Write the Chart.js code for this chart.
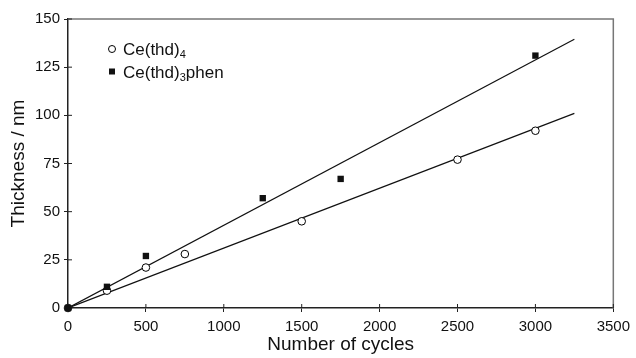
<!DOCTYPE html>
<html>
<head>
<meta charset="utf-8">
<script src="https://cdn.jsdelivr.net/npm/chart.js@4.4.1/dist/chart.umd.min.js"></script>
<style>
    html, body { margin: 0; padding: 0; background: #fff; }
    #wrap { width: 636px; height: 358px; }
</style>
</head>
<body>
<div id="wrap"><canvas id="thicknessChart" width="636" height="358"></canvas></div>
<script>
// measured points
const cyclesThd4 = [0, 250, 500, 750, 1500, 2500, 3000];
const thicknessThd4 = [0, 9, 21, 28, 45, 77, 92];
const cyclesPhen = [0, 250, 500, 1250, 1750, 3000];
const thicknessPhen = [0, 11, 27, 57, 67, 131];

// linear fits
const fitCycles = [0, 3250];
const fitThd4 = [0, 101];
const fitPhen = [0, 139.5];

const xTicks = [0, 500, 1000, 1500, 2000, 2500, 3000, 3500];
const yTicks = [0, 25, 50, 75, 100, 125, 150];

const FONT = "'Liberation Sans', Arial, sans-serif";

function toPoints(xs, ys) {
    return xs.map((x, i) => ({ x: x, y: ys[i] }));
}

// inside half of the crossing tick marks + grey frame on top/right
const framePlugin = {
    id: 'frame',
    beforeDatasetsDraw(chart) {
        const { ctx, chartArea: a, scales } = chart;
        ctx.save();
        ctx.strokeStyle = '#777';
        ctx.lineWidth = 1.5;
        ctx.beginPath();
        ctx.moveTo(a.left, a.top);
        ctx.lineTo(a.right, a.top);
        ctx.lineTo(a.right, a.bottom);
        ctx.stroke();

        ctx.strokeStyle = '#222';
        ctx.lineWidth = 1;
        ctx.beginPath();
        xTicks.forEach(v => {
            const px = scales.x.getPixelForValue(v);
            ctx.moveTo(px, a.bottom);
            ctx.lineTo(px, a.bottom - 4);
        });
        yTicks.forEach(v => {
            const py = scales.y.getPixelForValue(v);
            ctx.moveTo(a.left, py);
            ctx.lineTo(a.left + 4, py);
        });
        ctx.stroke();
        ctx.restore();
    }
};

// legend with subscripts
const legendPlugin = {
    id: 'subLegend',
    afterDraw(chart) {
        const { ctx } = chart;
        const items = [
            { style: 'circle', parts: [['Ce(thd)', false], ['4', true]] },
            { style: 'rect', parts: [['Ce(thd)', false], ['3', true], ['phen', false]] }
        ];
        const x0 = 112, y0 = 49, gap = 22.5;
        ctx.save();
        items.forEach((it, i) => {
            const y = y0 + i * gap;
            ctx.strokeStyle = '#000';
            ctx.lineWidth = 1;
            if (it.style === 'circle') {
                ctx.fillStyle = '#fff';
                ctx.beginPath();
                ctx.arc(x0, y, 3.5, 0, Math.PI * 2);
                ctx.fill();
                ctx.stroke();
            } else {
                ctx.fillStyle = '#111';
                ctx.fillRect(x0 - 3, y - 3, 6, 6);
            }
            let tx = 123;
            ctx.fillStyle = '#111';
            ctx.textBaseline = 'alphabetic';
            it.parts.forEach(([txt, sub]) => {
                ctx.font = (sub ? '11px ' : '17px ') + FONT;
                ctx.fillText(txt, tx, y + (sub ? 9 : 6));
                tx += ctx.measureText(txt).width;
            });
        });
        ctx.restore();
    }
};

const ctx = document.getElementById('thicknessChart').getContext('2d');

new Chart(ctx, {
    type: 'scatter',
    data: {
        datasets: [
            {
                label: 'fit Ce(thd)4',
                data: toPoints(fitCycles, fitThd4),
                order: 3,
                showLine: true,
                borderColor: '#111',
                borderWidth: 1.2,
                pointRadius: 0
            },
            {
                label: 'fit Ce(thd)3phen',
                data: toPoints(fitCycles, fitPhen),
                order: 3,
                showLine: true,
                borderColor: '#111',
                borderWidth: 1.2,
                pointRadius: 0
            },
            {
                label: 'Ce(thd)4',
                data: toPoints(cyclesThd4, thicknessThd4),
                order: 2,
                clip: false,
                pointStyle: 'circle',
                pointRadius: 3.8,
                borderWidth: 1,
                borderColor: '#000',
                backgroundColor: '#fff'
            },
            {
                label: 'Ce(thd)3phen',
                data: toPoints(cyclesPhen, thicknessPhen),
                order: 1,
                clip: false,
                pointStyle: 'rect',
                pointRadius: 4.5,
                borderWidth: 0,
                borderColor: '#111',
                backgroundColor: '#111'
            }
        ]
    },
    options: {
        responsive: false,
        animation: false,
        layout: { padding: { top: 19, right: 20.5, left: 0, bottom: 0 } },
        plugins: {
            legend: { display: false },
            tooltip: { enabled: false }
        },
        scales: {
            x: {
                type: 'linear',
                min: 0,
                max: 3500,
                afterBuildTicks: scale => { scale.ticks = xTicks.map(v => ({ value: v })); },
                afterFit: scale => { scale.height = 50; },
                border: { color: '#222', width: 1.5 },
                grid: { drawOnChartArea: false, tickLength: 4, color: '#222' },
                ticks: {
                    color: '#111',
                    padding: 6,
                    maxRotation: 0,
                    callback: v => String(v),
                    font: { family: FONT, size: 15 }
                },
                title: {
                    display: true,
                    text: 'Number of cycles',
                    color: '#111',
                    padding: { top: 0, bottom: 2 },
                    font: { family: FONT, size: 19 }
                }
            },
            y: {
                type: 'linear',
                min: 0,
                max: 150,
                afterBuildTicks: scale => { scale.ticks = yTicks.map(v => ({ value: v })); },
                afterFit: scale => { scale.width = 68; },
                border: { color: '#222', width: 1.5 },
                grid: { drawOnChartArea: false, tickLength: 4, color: '#222' },
                ticks: {
                    color: '#111',
                    padding: 4,
                    callback: v => String(v),
                    font: { family: FONT, size: 15 }
                },
                title: {
                    display: true,
                    text: 'Thickness / nm',
                    color: '#111',
                    padding: { top: 7, bottom: 0 },
                    font: { family: FONT, size: 19 }
                }
            }
        }
    },
    plugins: [framePlugin, legendPlugin]
});
</script>
</body>
</html>
